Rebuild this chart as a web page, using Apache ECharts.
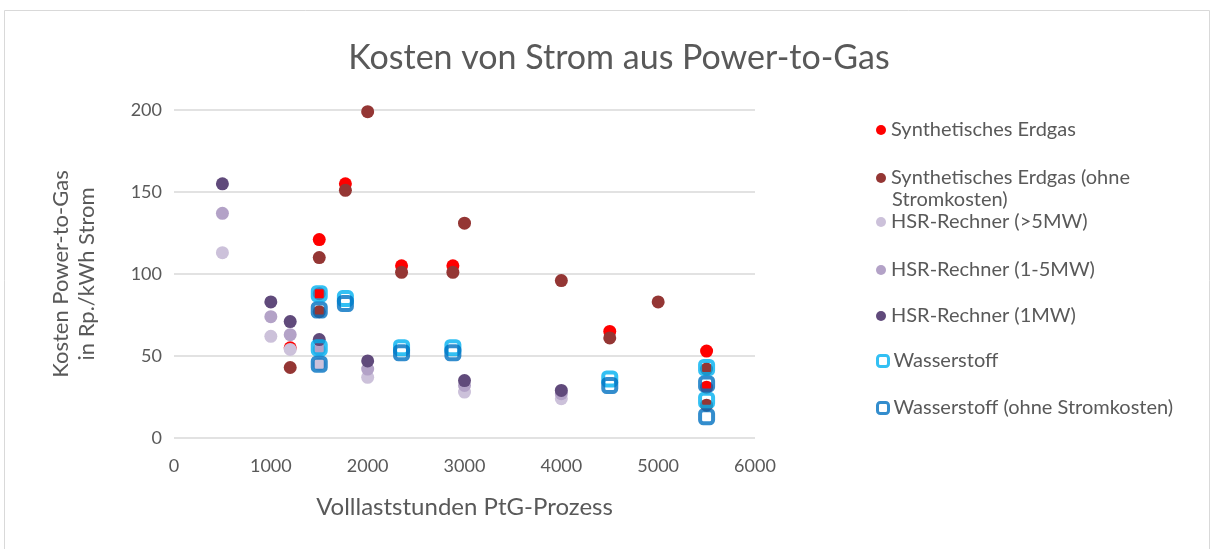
<!DOCTYPE html>
<html>
<head>
<meta charset="utf-8">
<script src="https://cdn.jsdelivr.net/npm/echarts@6/dist/echarts.min.js"></script>
<style>html,body{margin:0;padding:0;background:#fff;}#c{width:1214px;height:549px;}</style>
</head>
<body>
<div id="c"></div>
<script>
const titleText = 'Kosten von Strom aus Power-to-Gas';
const xAxisName = 'Volllaststunden PtG-Prozess';
const yAxisName = 'Kosten Power-to-Gas\nin Rp./kWh Strom';
const seriesNames = [
  'Synthetisches Erdgas',
  'Synthetisches Erdgas (ohne Stromkosten)',
  'HSR-Rechner (>5MW)',
  'HSR-Rechner (1-5MW)',
  'HSR-Rechner (1MW)',
  'Wasserstoff',
  'Wasserstoff (ohne Stromkosten)'
];
const legendLines = ['Synthetisches Erdgas (ohne', 'Stromkosten)'];
const synErdgas = [[1200,55],[1500,121],[1500,88],[1770,155],[2350,105],[2880,105],[4500,65],[5500,53],[5500,31]];
const synErdgasOhne = [[1200,43],[1500,110],[1500,77],[1770,151],[2000,199],[2350,101],[2880,101],[3000,131],[4000,96],[4500,61],[5000,83],[5500,42],[5500,20]];
const hsrGross = [[500,113],[1000,62],[1200,54],[1500,45],[2000,37],[3000,28],[4000,24]];
const hsrMittel = [[500,137],[1000,74],[1200,63],[1500,54],[2000,42],[3000,32],[4000,27]];
const hsrKlein = [[500,155],[1000,83],[1200,71],[1500,60],[2000,47],[3000,35],[4000,29]];
const wasserstoff = [[1500,88],[1500,55],[1770,85],[2350,55],[2880,55],[4500,36],[5500,43],[5500,23]];
const wasserstoffOhne = [[1500,78],[1500,45],[1770,82],[2350,52],[2880,52],[4500,32],[5500,33],[5500,13]];

const seriesData = [synErdgas, synErdgasOhne, hsrGross, hsrMittel, hsrKlein, wasserstoff, wasserstoffOhne];
const colors = ['#FF0000','#943634','#CCC1DA','#B3A2C7','#604A7B','#00B0F0','#0070C0'];
const FONT = 'Lato';
const TXT = '#595959';

const series = seriesData.map((d, i) => {
  const sq = i >= 5;
  return {
    name: seriesNames[i],
    type: 'scatter',
    data: d,
    symbol: sq ? 'roundRect' : 'circle',
    symbolSize: 13,
    itemStyle: sq ? {color: 'rgba(255,255,255,0)', borderColor: colors[i], borderWidth: 4}
                  : {color: colors[i], opacity: 1},
    emphasis: {disabled: true}
  };
});

const legendCenters = [130, 178, 222, 270, 316, 361, 408];
const legends = seriesNames.map((n, i) => {
  const sq = i >= 5;
  const two = i === 1;
  return {
    data: [n],
    left: 871,
    top: legendCenters[i] - 15,
    itemWidth: sq ? 11 : 10,
    itemHeight: sq ? 11 : 10,
    itemGap: 0,
    selectedMode: false,
    itemStyle: sq ? {color: '#fff', borderColor: colors[i], borderWidth: 3} : {},
    formatter: two ? legendLines[0] : '{name}',
    textStyle: {fontFamily: FONT, fontSize: 20, color: TXT}
  };
});

const chart = echarts.init(document.getElementById('c'), null, {renderer: 'canvas'});
chart.setOption({
  animation: false,
  backgroundColor: '#fff',
  color: colors,
  graphic: [
    {type: 'rect', shape: {x: 4.5, y: 10.5, width: 1205, height: 600}, style: {fill: 'none', stroke: '#D9D9D9', lineWidth: 1}, silent: true},
    {type: 'text', left: 892, top: 190, style: {text: legendLines[1], font: '20px Lato', fill: TXT}, silent: true}
  ],
  title: {text: titleText, left: 614, top: 36, textAlign: 'center',
    textStyle: {fontFamily: FONT, fontSize: 34, fontWeight: 'normal', color: TXT}},
  legend: legends,
  grid: {left: 174, right: 1214 - 755, top: 110, bottom: 549 - 438, containLabel: false},
  xAxis: {
    type: 'value', min: 0, max: 6000, interval: 1000,
    name: xAxisName, nameLocation: 'middle', nameGap: 57,
    nameTextStyle: {fontFamily: FONT, fontSize: 24, color: TXT},
    axisLine: {show: false}, axisTick: {show: false}, splitLine: {show: false},
    axisLabel: {fontFamily: FONT, fontSize: 18, color: TXT, margin: 19, formatter: v => String(v)}
  },
  yAxis: {
    type: 'value', min: 0, max: 200, interval: 50,
    name: yAxisName, nameLocation: 'middle', nameGap: 74,
    nameTextStyle: {fontFamily: FONT, fontSize: 22, color: TXT, lineHeight: 26},
    axisLine: {show: false}, axisTick: {show: false},
    splitLine: {lineStyle: {color: '#D9D9D9', width: 1.5}},
    axisLabel: {fontFamily: FONT, fontSize: 18, color: TXT, margin: 12}
  },
  series: series
});
</script>
</body>
</html>
